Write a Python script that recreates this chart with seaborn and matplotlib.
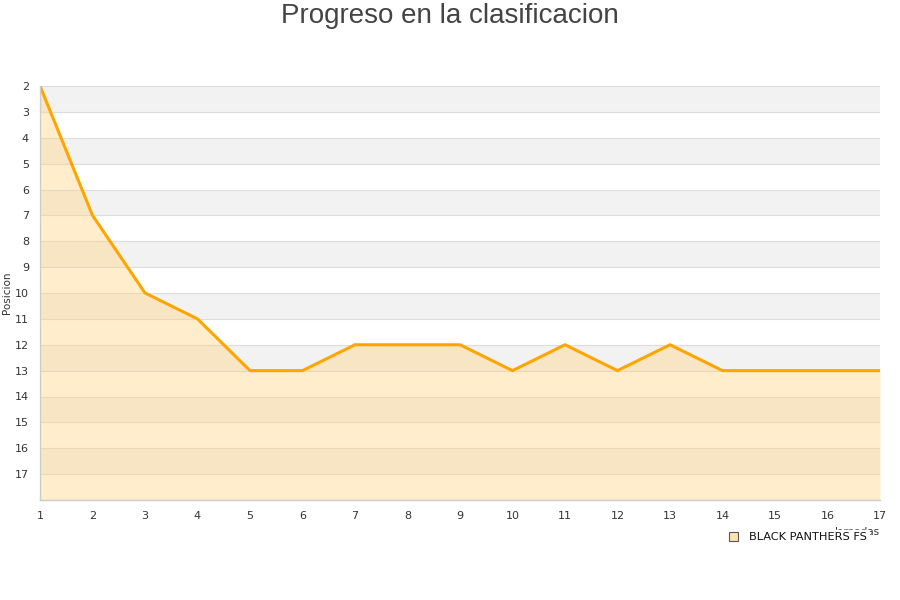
import matplotlib
matplotlib.use("Agg")
import matplotlib.pyplot as plt
import matplotlib.patches as mpatches
import seaborn as sns
import pandas as pd

# Datos
jornadas = list(range(1, 18))
posiciones = [2, 7, 10, 11, 13, 13, 12, 12, 12, 13, 12, 13, 12, 13, 13, 13, 13]
equipo = "BLACK PANTHERS FS"
y_ticks = list(range(2, 18))

df = pd.DataFrame({"Jornadas": jornadas, "Posicion": posiciones})

sns.set_theme(style="white")
plt.rcParams["font.family"] = ["DejaVu Sans"]

fig = plt.figure(figsize=(9, 6), dpi=100)
ax = fig.add_axes([40 / 900, 100 / 600, 840 / 900, 414 / 600])

y_min, y_max = 2, 18
# Bandas alternas
for y in range(y_min, y_max, 2):
    ax.axhspan(y, y + 1, color="#f2f2f2", zorder=0, lw=0)
for y in range(y_min, y_max + 1):
    ax.axhline(y, color="#dddddd", lw=0.8, zorder=0.5)

ax.fill_between(df["Jornadas"], df["Posicion"], y_max, color="#ffd27f", alpha=0.4, lw=0, zorder=1)
sns.lineplot(data=df, x="Jornadas", y="Posicion", color="#ffa500", lw=2.2, ax=ax, zorder=2)

ax.set_xlim(1, 17)
ax.set_ylim(y_max, y_min)
ax.set_xticks(jornadas)
ax.set_yticks(y_ticks)
ax.tick_params(axis="both", labelsize=8, colors="#333333", length=0, pad=8)
ax.set_ylabel("Posicion", fontsize=7.5, color="#333333")
ax.yaxis.set_label_coords(-28 / 840, 0.5)
ax.set_xlabel("Jornadas", fontsize=7.5, color="#333333", ha="right")
ax.xaxis.set_label_coords(1.0, -0.065)

for s in ["top", "right"]:
    ax.spines[s].set_visible(False)
for s in ["left", "bottom"]:
    ax.spines[s].set_color("#cccccc")
    ax.spines[s].set_linewidth(1)

fig.suptitle("Progreso en la clasificacion", fontsize=20, color="#444444",
             family=["Liberation Sans", "DejaVu Sans"], y=0.995)

handle = mpatches.Patch(facecolor="#ffe2b0", edgecolor="#555555", lw=0.8, label=equipo)
leg = fig.legend(handles=[handle], loc="center left", bbox_to_anchor=(727 / 900, 1 - 537 / 600),
                 frameon=True, fontsize=8.2, handlelength=0.8, handleheight=0.8, handletextpad=0.9,
                 borderpad=0.2, borderaxespad=0)
leg.get_frame().set_edgecolor("white")
leg.get_frame().set_facecolor("white")
leg.get_frame().set_alpha(1)
leg.set_zorder(10)
for t in leg.get_texts():
    t.set_color("#111111")

plt.savefig("out.png", dpi=100)
plt.close()
